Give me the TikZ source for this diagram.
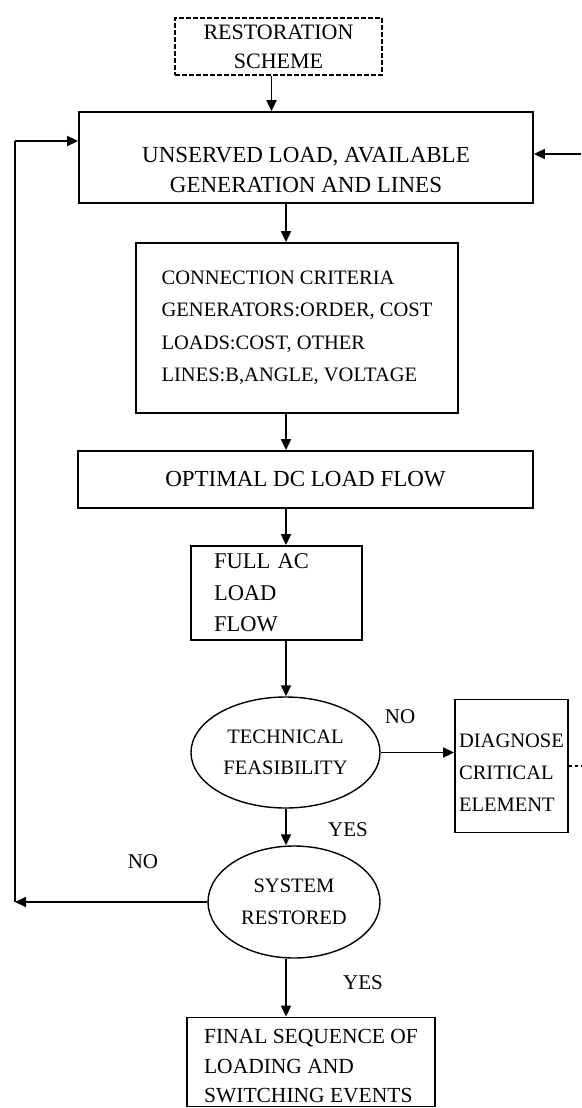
\documentclass[tikz,border=0pt]{standalone}
\usepackage{fontspec}
\setmainfont{Liberation Serif}
\usetikzlibrary{arrows.meta,shapes.geometric}

\tikzset{
  block/.style={draw,line width=1.8pt,rectangle,inner sep=0pt,align=center},
  decision/.style={draw,line width=1.4pt,ellipse,inner sep=0pt,align=center,font=\fontsize{20.5}{31}\selectfont},
  flow/.style={line width=1.8pt,-{Triangle[length=11pt,width=10pt]}},
  wire/.style={line width=1.8pt},
  answer/.style={font=\fontsize{21}{25}\selectfont},
}

\begin{document}
\begin{tikzpicture}[x=1pt,y=-1pt]
  \useasboundingbox (0,0) rectangle (581,1108);
  \coordinate (spine) at (286,0);
  \coordinate (looptop) at (15,141);
  \coordinate (rightin) at (581,154);

  \node[block,line width=1.2pt,dash pattern=on 5pt off 2pt,minimum width=207pt,minimum height=57pt,font=\fontsize{22}{29}\selectfont] (resto) at (278.5,46.5) {RESTORATION\\SCHEME};
  \node[block,minimum width=454pt,minimum height=91pt,text height=70.5pt,font=\fontsize{23}{30}\selectfont] (unserved) at (306,157.5) {UNSERVED LOAD, AVAILABLE\\GENERATION AND LINES};
  \node[block,align=left,minimum width=322pt,minimum height=170pt,font=\fontsize{20.5}{32.5}\selectfont] (crit) at (297,328) {CONNECTION CRITERIA\\GENERATORS:ORDER, COST\\LOADS:COST, OTHER\\LINES:B,ANGLE, VOLTAGE};
  \node[block,minimum width=455pt,minimum height=57pt,font=\fontsize{23}{30}\selectfont] (dcflow) at (305.5,479.5) {OPTIMAL DC LOAD FLOW};
  \node[block,align=left,text width=125pt,inner xsep=23pt,minimum height=94pt,font=\fontsize{22.5}{31.5}\selectfont] (acflow) at (276.5,593) {FULL AC\\LOAD\\FLOW};
  \node[decision,minimum width=189pt,minimum height=111pt] (feasible) at (285.5,752.5) {TECHNICAL\\FEASIBILITY};
  \node[block,align=left,minimum width=113pt,minimum height=133pt,text height=91pt,font=\fontsize{20.5}{32}\selectfont] (diagnose) at (511.5,766) {DIAGNOSE\\CRITICAL\\ELEMENT};
  \node[decision,minimum width=172pt,minimum height=112pt,font=\fontsize{20.5}{32}\selectfont] (restored) at (294,902) {SYSTEM\\RESTORED};
  \node[block,align=left,minimum width=248pt,minimum height=89pt,text height=82pt,font=\fontsize{21.5}{29.5}\selectfont] (final) at (311,1062) {FINAL SEQUENCE OF\\LOADING AND\\SWITCHING EVENTS};

  \node[answer] (nofeas) at (400,717) {NO};
  \node[answer] (yesfeas) at (348,830) {YES};
  \node[answer] (norest) at (143,862) {NO};
  \node[answer] (yesrest) at (363,983) {YES};

  \draw[flow] ([xshift=-7pt]resto.south) -- ([xshift=-7pt]resto.south |- unserved.north);
  \draw[flow] (unserved.south -| spine) -- (crit.north -| spine);
  \draw[flow] (crit.south -| spine) -- (dcflow.north -| spine);
  \draw[flow] (dcflow.south -| spine) -- (acflow.north -| spine);
  \draw[flow] (acflow.south -| spine) -- (feasible.north -| spine);
  \draw[flow] (feasible.east) -- (feasible.east -| diagnose.west);
  \draw[flow] (feasible.south -| spine) -- (restored.north -| spine);
  \draw[flow] (restored.south -| spine) -- (final.north -| spine);
  % feedback loops
  \draw[flow] (restored.west) -- (restored.west -| looptop);
  \draw[wire] (restored.west -| looptop) -- (looptop);
  \draw[flow] (looptop) -- (looptop -| unserved.west);
  \draw[flow] (rightin) -- (rightin -| unserved.east);
  \draw[line width=1.2pt,dashed] (diagnose.east) -- (diagnose.east -| rightin);
\end{tikzpicture}
\end{document}
